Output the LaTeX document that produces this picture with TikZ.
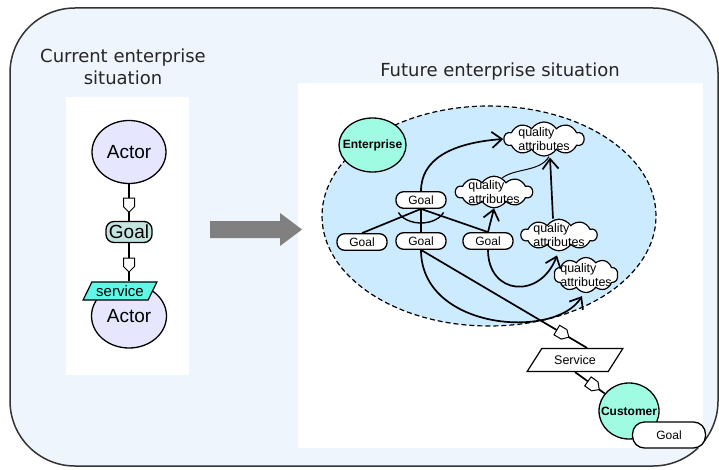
\documentclass[tikz,border=0pt]{standalone}
\usepackage{fontspec}
\setmainfont{Liberation Sans}
\newfontfamily\titlefont{DejaVu Sans}
\usetikzlibrary{shapes.geometric,shapes.symbols,arrows.meta,calc}
\definecolor{bgblue}{HTML}{EEF5FC}
\definecolor{borderc}{HTML}{333333}
\definecolor{futfill}{HTML}{CCEBFF}
\definecolor{mint}{HTML}{9FFCE3}
\definecolor{lavender}{HTML}{E6E6FF}
\definecolor{goalteal}{HTML}{C4E4E0}
\definecolor{servcyan}{HTML}{5EF7E8}
\definecolor{arrowgray}{HTML}{808080}
\begin{document}
\begin{tikzpicture}[x=1pt,y=-1pt,
  every node/.style={inner sep=0pt},
  title/.style={font=\titlefont\fontsize{18}{22}\selectfont, align=center, text=black!85},
  actor/.style={ellipse, draw, fill=lavender, line width=1.3pt, font=\fontsize{19}{22}\selectfont},
  goalL/.style={rectangle, rounded corners=8pt, draw, fill=goalteal, line width=1.3pt, minimum width=46pt, minimum height=21pt, font=\fontsize{19}{22}\selectfont},
  goalR/.style={rectangle, rounded corners=7.5pt, draw, fill=white, line width=1.3pt, minimum width=50pt, minimum height=16.5pt, font=\fontsize{12}{14}\selectfont},
  party/.style={ellipse, draw, fill=mint, line width=1.3pt, inner sep=-8pt, font=\bfseries\fontsize{12}{14}\selectfont},
  qcloud/.style={cloud, cloud puffs=10, cloud puff arc=115, aspect=2.4, draw, fill=white, line width=1.2pt, inner sep=-6pt, align=left, font=\fontsize{12.5}{14.5}\selectfont},
  conn/.style={line width=1.7pt},
  arr/.style={-{Straight Barb[length=10pt,width=16pt]}},
  pent/.style={signal, signal to=east, draw, fill=white, line width=1pt, minimum width=14pt, minimum height=11pt, inner sep=0pt, sloped, allow upside down}]
\useasboundingbox (0,0) rectangle (719,470);
% outer frame
\draw[fill=bgblue, draw=borderc, line width=1.5pt, rounded corners=65pt] (10,8) rectangle (718,466);
% titles
\node[title] (tcur) at (123,67) {Current enterprise\\situation};
\node[title] (tfut) at (500,72) {Future enterprise situation};
% panels
\fill[white] (66,97) rectangle (189,375);
\fill[white] (298,83) rectangle (703,448);
% big gray arrow
\fill[arrowgray] (210,221) -- (280,221) -- (280,213) -- (302,229.5) -- (280,246) -- (280,238) -- (210,238) -- cycle;
% ---------- current situation ----------
\node[actor, minimum width=74pt, minimum height=63pt] (A1) at (129,152) {Actor};
\node[goalL] (GL) at (129,232) {Goal};
\node[actor, minimum width=75pt, minimum height=64pt] (A2) at (129,316) {\raisebox{-2pt}{Actor}};
\node[trapezium, trapezium left angle=56, trapezium right angle=124, trapezium stretches=true, draw, fill=servcyan, line width=1.2pt, minimum width=74pt, minimum height=18pt, font=\fontsize{15}{17}\selectfont] (SL) at (120,291) {service};
\draw[conn] (A1.south) -- node[pent]{} (GL.north);
\draw[conn] (GL.south) -- node[pent]{} (GL.south |- SL.north);
% ---------- future situation ----------
\node[ellipse, draw, dashed, dash pattern=on 5pt off 3pt, fill=futfill, line width=1.2pt, minimum width=334pt, minimum height=220pt] (FUT) at (489,216) {};
\node[party, minimum width=67pt, minimum height=54pt] (EN) at (372.5,145) {Enterprise};
\node[goalR] (G0) at (421,200) {Goal};
\node[goalR] (G1) at (362,242) {Goal};
\node[goalR] (G2) at (421,241) {Goal};
\node[goalR] (G3) at (488,241) {Goal};
\node[qcloud, minimum width=80pt, minimum height=34pt] (Q1) at (544,139) {quality\\attributes};
\node[qcloud, minimum width=77pt, minimum height=31pt] (Q2) at (494,192) {quality\\attributes};
\node[qcloud, minimum width=76pt, minimum height=31pt] (Q3) at (559,235) {quality\\attributes};
\node[qcloud, minimum width=64pt, minimum height=35pt] (Q4) at (586,275) {quality\\attributes};
\node[trapezium, trapezium left angle=45, trapezium right angle=135, trapezium stretches=true, draw, fill=white, line width=1.2pt, minimum width=96pt, minimum height=23pt, font=\fontsize{12.5}{14}\selectfont] (SV) at (575,360) {Service};
\node[party, minimum width=60pt, minimum height=56pt] (CU) at (629,411) {Customer};
\node[goalR, minimum width=73pt, minimum height=26pt, rounded corners=12pt] (GC) at (669,435) {Goal};
% decomposition links
\draw[conn] (G0.south) -- (G1.north);
\draw[conn] (G0.south) -- (G2.north);
\draw[conn] (G0.south) -- (G3.north);
\draw[line width=1.4pt] (398.45,212.47) arc[start angle=160, end angle=20, x radius=24, y radius=16];
% contribution links
\draw[conn, arr] (G0.north) .. controls (421,160) and (450,143) .. (Q1.west);
\draw[line width=1pt] (Q2.60) .. controls (515,168) and (540,172) .. ($(Q1.south)+(5,0)$);
\draw[conn, arr] ($(Q3.north)+(-6,0)$) -- ($(Q1.south)+(6,1)$);
\draw[conn, arr] (G3.north) -- (Q2.south);
\draw[conn, arr] (G3.south) .. controls (488,295) and (540,300) .. ($(Q3.south)+(-2,4)$);
\draw[conn, arr] (G2.south) .. controls (421,330) and (555,340) .. ($(Q4.south)+(-4,3)$);
% dependency links
\draw[conn] (G2.south) -- node[pent, pos=0.84]{} ($(SV.north)+(12,0)$);
\draw[conn] (SV.south) -- node[pent, pos=0.55]{} (CU);
\end{tikzpicture}
\end{document}
